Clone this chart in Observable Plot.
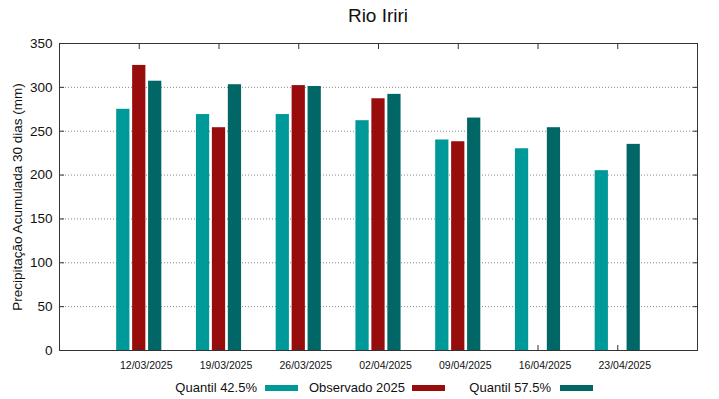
<!DOCTYPE html>
<html>
<head>
<meta charset="utf-8">
<script src="https://cdn.jsdelivr.net/npm/d3@7"></script>
<script src="https://cdn.jsdelivr.net/npm/@observablehq/plot@0.6"></script>
<style>
  html, body { margin: 0; padding: 0; background: #fff; }
  #wrap { position: relative; width: 719px; height: 399px; font-family: "Liberation Sans", Arial, sans-serif; }
  #title { position: absolute; left: 0; top: 5px; width: 756px; text-align: center; font-size: 19px; color: #111; }
  .leg { position: absolute; top: 380px; font-size: 13px; color: #111; white-space: nowrap; }
  .sw { position: absolute; top: 385px; height: 6px; width: 33px; }
</style>
</head>
<body>
<div id="wrap">
  <div id="title">Rio Iriri</div>
</div>
<script>
const dates = ["12/03/2025", "19/03/2025", "26/03/2025", "02/04/2025", "09/04/2025", "16/04/2025", "23/04/2025"];
const quantil425 = [275, 269, 269, 262, 240, 230, 205];
const observado = [325, 254, 302, 287, 238, null, null];
const quantil575 = [307, 303, 301, 292, 265, 254, 235];
const seriesNames = ["Quantil 42.5%", "Observado 2025", "Quantil 57.5%"];
const seriesColors = ["#009999", "#990c0c", "#006666"];
const yTicks = [0, 50, 100, 150, 200, 250, 300, 350];

const seriesValues = [quantil425, observado, quantil575];
const offsets = [-0.2, 0, 0.2];
const halfW = 0.083;
const rows = [];
seriesValues.forEach((vals, s) => {
  vals.forEach((v, i) => {
    if (v != null) rows.push({i, s, v, x1: i + offsets[s] - halfW, x2: i + offsets[s] + halfW});
  });
});
const idx = dates.map((d, i) => i);

const chart = Plot.plot({
  width: 719,
  height: 399,
  marginLeft: 59,
  marginRight: 22,
  marginTop: 43,
  marginBottom: 49,
  style: {fontFamily: "Liberation Sans, Arial, sans-serif", background: "white", color: "#111"},
  x: {type: "linear", domain: [-1, 7], axis: null},
  y: {domain: [0, 350], axis: null},
  marks: [
    Plot.gridY(yTicks.filter(t => t > 0 && t < 350), {stroke: "#888", strokeOpacity: 1, strokeDasharray: "1,2"}),
    Plot.rectY(rows, {x1: "x1", x2: "x2", y1: 0, y2: "v", fill: d => seriesColors[d.s]}),
    Plot.axisY({ticks: yTicks, tickSize: 0, tickPadding: 7, fontSize: 13.5, label: null}),
    Plot.axisY({ticks: yTicks, tickSize: -5, tickFormat: () => "", label: null, stroke: "#333"}),
    Plot.axisY({ticks: yTicks, anchor: "right", tickSize: -5, tickFormat: () => "", label: null, stroke: "#333"}),
    Plot.axisX({ticks: idx, tickSize: 0, tickPadding: 11, tickFormat: i => dates[i], fontSize: 10.5, dx: 7, label: null}),
    Plot.axisX({ticks: idx, tickSize: -5, tickFormat: () => "", label: null, stroke: "#333"}),
    Plot.axisX({ticks: idx, anchor: "top", tickSize: -5, tickFormat: () => "", label: null, stroke: "#333"}),
    Plot.frame({stroke: "#333"}),
    Plot.text(["Precipitação Acumulada 30 dias (mm)"], {frameAnchor: "left", textAnchor: "middle", rotate: -90, dx: -42, fontSize: 13.5, fill: "#111"})
  ]
});
const wrap = document.getElementById("wrap");
wrap.insertBefore(chart, wrap.firstChild);

// legend
const legPos = [{textRight: 257, sw: 265}, {textRight: 405, sw: 412}, {textRight: 551, sw: 560}];
seriesNames.forEach((n, k) => {
  const t = document.createElement("span");
  t.className = "leg";
  t.textContent = n;
  t.style.right = (719 - legPos[k].textRight) + "px";
  wrap.appendChild(t);
  const s = document.createElement("span");
  s.className = "sw";
  s.style.left = legPos[k].sw + "px";
  s.style.background = seriesColors[k];
  wrap.appendChild(s);
});
</script>
</body>
</html>
